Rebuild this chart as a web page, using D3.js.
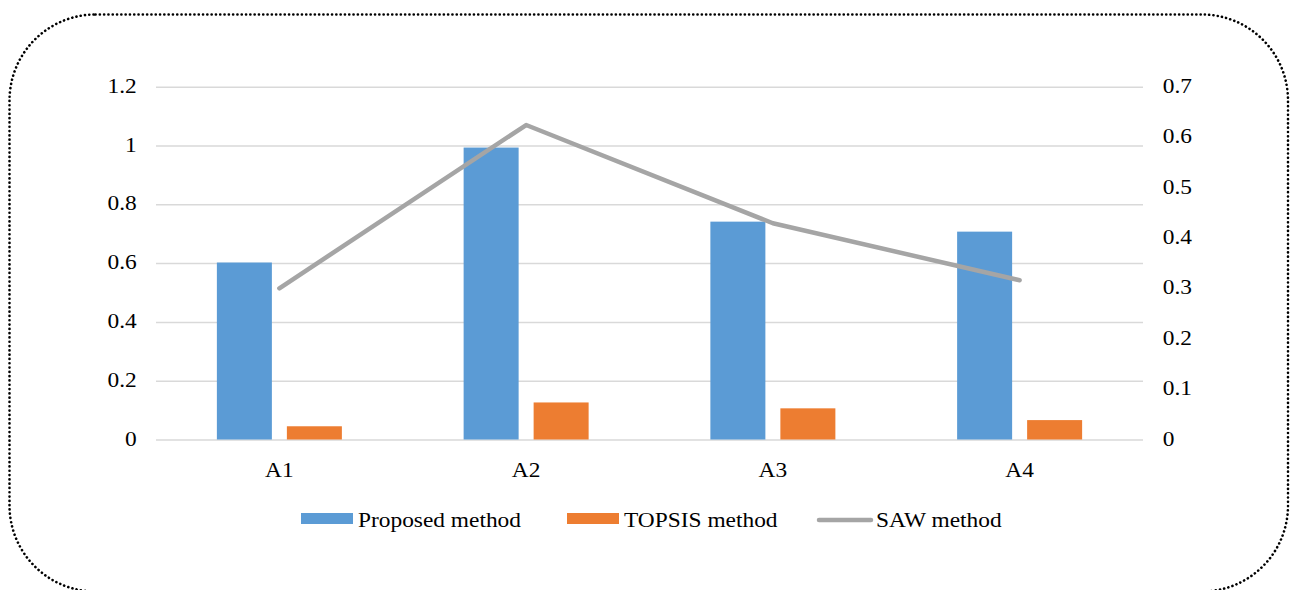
<!DOCTYPE html>
<html>
<head>
<meta charset="utf-8">
<script src="https://cdn.jsdelivr.net/npm/d3@7"></script>
<style>
  html, body { margin: 0; padding: 0; background: #fff; }
  svg { display: block; }
</style>
</head>
<body>
<svg id="chart" width="1293" height="590"></svg>
<script>
// Scores of alternatives A1–A4 under three ranking methods
const categories = ["A1", "A2", "A3", "A4"];
const proposedValues = [0.602, 0.993, 0.741, 0.707];
const topsisValues = [0.045, 0.126, 0.106, 0.066];
const sawValues = [0.300, 0.624, 0.429, 0.316];
const leftTicks = [0, 0.2, 0.4, 0.6, 0.8, 1, 1.2];
const rightTicks = [0, 0.1, 0.2, 0.3, 0.4, 0.5, 0.6, 0.7];
const seriesNames = ["Proposed method", "TOPSIS method", "SAW method"];

const COLORS = { proposed: "#5B9BD5", topsis: "#ED7D31", saw: "#A5A5A5" };
const FONT = 20;
const FAMILY = "'Liberation Serif', 'Times New Roman', Times, serif";
const SX = 1.17; // glyphs are set slightly wide

const svg = d3.select("#chart");

// dotted rounded frame
svg.append("rect")
  .attr("x", 9.5).attr("y", 14.5)
  .attr("width", 1278.5).attr("height", 577)
  .attr("rx", 86).attr("ry", 86)
  .attr("fill", "none")
  .attr("stroke", "#000")
  .attr("stroke-width", 2.6)
  .attr("stroke-linecap", "round")
  .attr("stroke-dasharray", "0.1 4.2");

const plot = { left: 156, right: 1143, top: 86.7, bottom: 439.5 };

const yL = d3.scaleLinear().domain([0, 1.2]).range([plot.bottom, plot.top]);
const yR = d3.scaleLinear().domain([0, 0.7]).range([plot.bottom, plot.top]);

const x0 = d3.scaleBand().domain(categories)
  .range([plot.left, plot.right])
  .paddingInner(0.4934).paddingOuter(0.2467);
const x1 = d3.scaleBand().domain(["proposed", "topsis"])
  .range([0, x0.bandwidth()])
  .paddingInner(0.2143);

const fmt = d => String(+d.toFixed(1));

// horizontal gridlines
const grid = svg.append("g")
  .attr("transform", `translate(${plot.left},0)`)
  .call(d3.axisLeft(yL).tickValues(leftTicks).tickSize(-(plot.right - plot.left)).tickFormat(""));
grid.select(".domain").remove();
grid.selectAll(".tick line").attr("stroke", "#D9D9D9").attr("stroke-width", 1.5);

// serif text, widened around its anchor
function styleText(sel) {
  sel.attr("font-size", FONT)
    .attr("font-family", FAMILY)
    .style("font-family", FAMILY)
    .attr("fill", "#000");
  sel.each(function () {
    const t = d3.select(this);
    const x = +t.attr("x") || 0;
    t.attr("x", x / SX).attr("transform", `scale(${SX},1)`);
  });
}

// left axis labels
const axL = svg.append("g")
  .attr("transform", `translate(${plot.left},0)`)
  .call(d3.axisLeft(yL).tickValues(leftTicks).tickSize(0).tickPadding(19.3).tickFormat(fmt));
axL.attr("font-family", FAMILY).attr("font-size", FONT);
axL.select(".domain").remove();
axL.selectAll("text").attr("dy", "0.28em").call(styleText);

// right axis labels
const axR = svg.append("g")
  .attr("transform", `translate(${plot.right},0)`)
  .call(d3.axisRight(yR).tickValues(rightTicks).tickSize(0).tickPadding(19.7).tickFormat(fmt));
axR.attr("font-family", FAMILY).attr("font-size", FONT);
axR.select(".domain").remove();
axR.selectAll("text").attr("dy", "0.28em").call(styleText);

// bars
const groups = svg.append("g").selectAll("g")
  .data(categories)
  .join("g")
  .attr("transform", c => `translate(${x0(c)},0)`);

groups.append("rect")
  .attr("x", x1("proposed"))
  .attr("width", x1.bandwidth())
  .attr("y", (c, i) => yL(proposedValues[i]))
  .attr("height", (c, i) => plot.bottom - yL(proposedValues[i]))
  .attr("fill", COLORS.proposed);

groups.append("rect")
  .attr("x", x1("topsis"))
  .attr("width", x1.bandwidth())
  .attr("y", (c, i) => yL(topsisValues[i]))
  .attr("height", (c, i) => plot.bottom - yL(topsisValues[i]))
  .attr("fill", COLORS.topsis);

// category axis
const axX = svg.append("g")
  .attr("transform", `translate(0,${plot.bottom})`)
  .call(d3.axisBottom(x0).tickSize(0).tickPadding(23));
axX.attr("font-family", FAMILY).attr("font-size", FONT);
axX.select(".domain").remove();
axX.selectAll("text").call(styleText);

// SAW line on secondary axis
const line = d3.line()
  .x((d, i) => x0(categories[i]) + x0.bandwidth() / 2)
  .y(d => yR(d));
svg.append("path")
  .datum(sawValues)
  .attr("d", line)
  .attr("fill", "none")
  .attr("stroke", COLORS.saw)
  .attr("stroke-width", 4.5)
  .attr("stroke-linecap", "round")
  .attr("stroke-linejoin", "round");

// legend
const legend = svg.append("g");
const legendItems = [
  { name: seriesNames[0], kind: "rect", color: COLORS.proposed, x: 301 },
  { name: seriesNames[1], kind: "rect", color: COLORS.topsis, x: 567 },
  { name: seriesNames[2], kind: "line", color: COLORS.saw, x: 819 }
];
legendItems.forEach(it => {
  if (it.kind === "rect") {
    legend.append("rect").attr("x", it.x).attr("y", 513).attr("width", 52).attr("height", 11).attr("fill", it.color);
  } else {
    legend.append("line").attr("x1", it.x).attr("x2", it.x + 52).attr("y1", 520).attr("y2", 520)
      .attr("stroke", it.color).attr("stroke-width", 4.5).attr("stroke-linecap", "round");
  }
  legend.append("text")
    .attr("x", it.x + 57).attr("y", 526.7)
    .text(it.name)
    .call(styleText);
});
</script>
</body>
</html>
